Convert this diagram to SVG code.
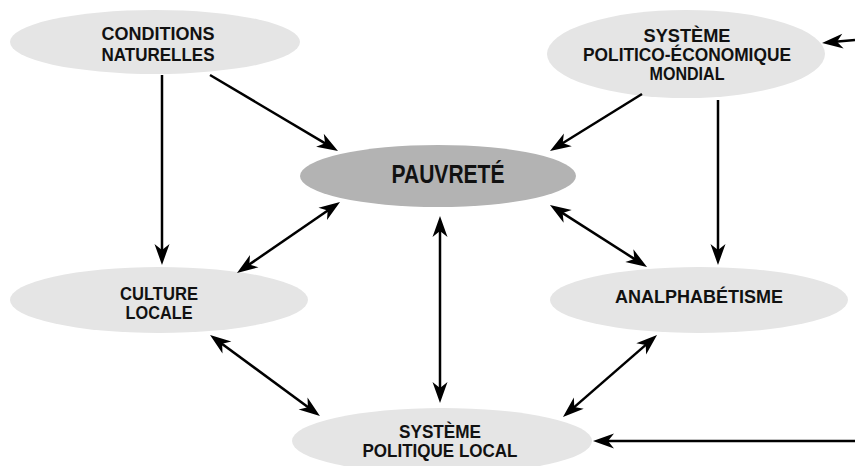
<svg xmlns="http://www.w3.org/2000/svg" width="855" height="466" viewBox="0 0 855 466">
<style>
.n{fill:#e5e5e5}
.p{fill:#b3b3b3}
.t{font-family:"Liberation Sans",Arial,sans-serif;font-weight:bold;font-size:19px;fill:#111;text-anchor:middle}
.big{font-size:25px}
.c line{stroke:#000;stroke-width:2.5;fill:none}
.one{marker-end:url(#ah)}
.two{marker-start:url(#ah);marker-end:url(#ah)}
</style>
<defs>
<marker id="ah" markerUnits="userSpaceOnUse" markerWidth="30" markerHeight="30" refX="0" refY="0" orient="auto-start-reverse" overflow="visible">
<path d="M10,0 L-11,-7.5 L-5,0 L-11,7.5 Z" fill="#000"/>
</marker>
</defs>
<g id="conditions">
<ellipse class="n" cx="155" cy="42" rx="145" ry="32"/>
<text class="t" x="158" y="40" textLength="113" lengthAdjust="spacingAndGlyphs">CONDITIONS</text>
<text class="t" x="158" y="61" textLength="113" lengthAdjust="spacingAndGlyphs">NATURELLES</text>
</g>
<g id="mondial">
<ellipse class="n" cx="686" cy="54" rx="139" ry="44"/>
<text class="t" x="687" y="42" textLength="87" lengthAdjust="spacingAndGlyphs">SYSTÈME</text>
<text class="t" x="687" y="61" textLength="208" lengthAdjust="spacingAndGlyphs">POLITICO-ÉCONOMIQUE</text>
<text class="t" x="687" y="80" textLength="75" lengthAdjust="spacingAndGlyphs">MONDIAL</text>
</g>
<g id="pauvrete">
<ellipse class="p" cx="438" cy="176" rx="138" ry="31"/>
<text class="t big" x="448" y="183" textLength="113" lengthAdjust="spacingAndGlyphs">PAUVRETÉ</text>
</g>
<g id="culture">
<ellipse class="n" cx="159" cy="300" rx="149" ry="33"/>
<text class="t" x="159" y="300" textLength="78" lengthAdjust="spacingAndGlyphs">CULTURE</text>
<text class="t" x="159" y="319" textLength="67" lengthAdjust="spacingAndGlyphs">LOCALE</text>
</g>
<g id="analphabetisme">
<ellipse class="n" cx="699" cy="300" rx="149" ry="33"/>
<text class="t" x="699" y="303" textLength="168" lengthAdjust="spacingAndGlyphs">ANALPHABÉTISME</text>
</g>
<g id="politique-local">
<ellipse class="n" cx="442" cy="441" rx="150" ry="33"/>
<text class="t" x="440" y="438" textLength="82" lengthAdjust="spacingAndGlyphs">SYSTÈME</text>
<text class="t" x="440" y="457" textLength="155" lengthAdjust="spacingAndGlyphs">POLITIQUE LOCAL</text>
</g>
<g id="connectors" class="c">
<line class="one" x1="162" y1="75" x2="162" y2="255"/>
<line class="one" x1="210" y1="75" x2="329.4" y2="145.9"/>
<line class="one" x1="642" y1="94" x2="558.5" y2="145.7"/>
<line class="one" x1="718" y1="100" x2="718" y2="255"/>
<line class="one" x1="855" y1="40" x2="832" y2="42.1"/>
<line class="two" x1="331.8" y1="207.7" x2="245.2" y2="267.3"/>
<line class="two" x1="558.4" y1="210.4" x2="638.6" y2="261.6"/>
<line class="two" x1="440" y1="226" x2="440" y2="393"/>
<line class="two" x1="218.1" y1="340.9" x2="311.9" y2="410.1"/>
<line class="two" x1="649.5" y1="341.6" x2="570.5" y2="410.4"/>
<line class="one" x1="855" y1="441" x2="603" y2="441"/>
</g>
</svg>
